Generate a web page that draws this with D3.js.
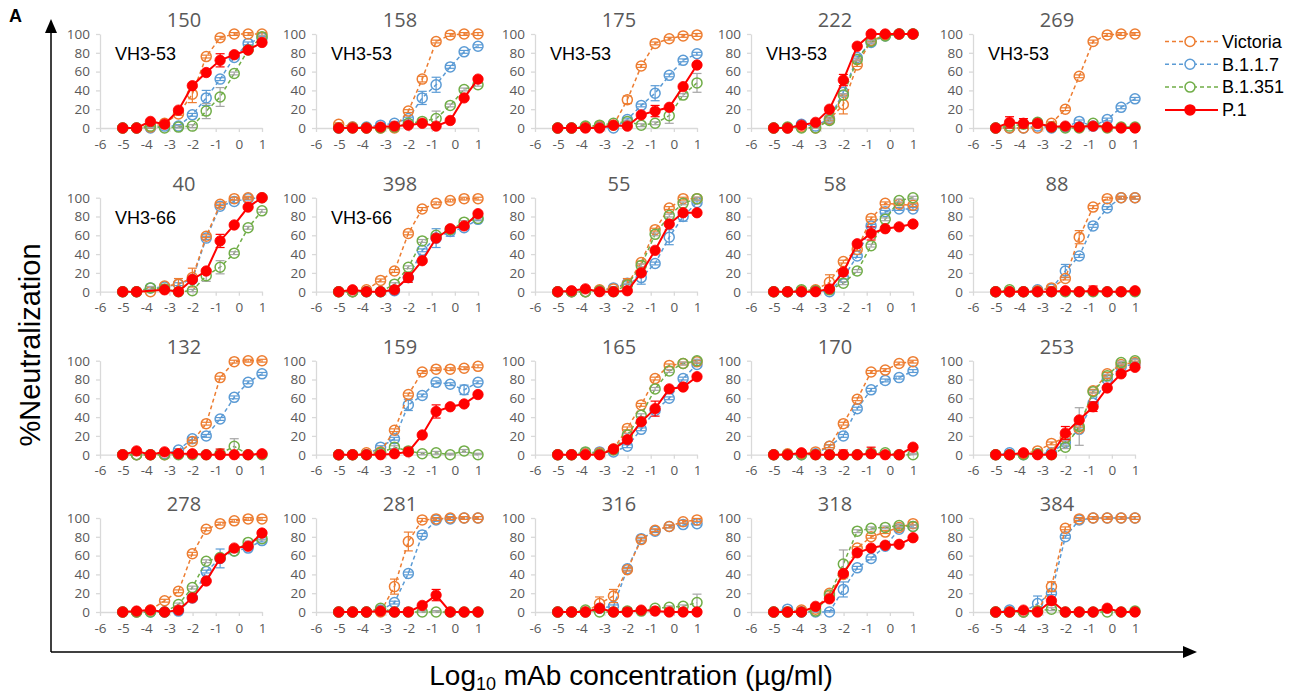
<!DOCTYPE html>
<html><head><meta charset="utf-8">
<script src="https://cdn.jsdelivr.net/npm/d3@7"></script>
<style>body{margin:0;background:#fff} svg{display:block}</style>
</head><body><svg id="c" width="1300" height="698"></svg>
<script>
// ---------- DATA ----------
const concentrations = [-5.02, -4.42, -3.82, -3.21, -2.61, -2.01, -1.41, -0.81, -0.20, 0.40, 1.00];
const xTicks = [-6, -5, -4, -3, -2, -1, 0, 1];
const yTicks = [0, 20, 40, 60, 80, 100];
const seriesNames = ["Victoria", "B.1.1.7", "B.1.351", "P.1"];
const panelIds = ["150","158","175","222","269","40","398","55","58","88","132","159","165","170","253","278","281","316","318","384"];
const geneLabels = {"150":"VH3-53","158":"VH3-53","175":"VH3-53","222":"VH3-53","269":"VH3-53","40":"VH3-66","398":"VH3-66"};

const victoria = [
  [0,0,1,5,15,36,76,96,100,100,100],
  [4,1,0,0,0,18,52,92,99,100,100],
  [0,0,1,2,3,30,66,90,95,98,99],
  [0,0,1,0,9,25,67,93,99,100,100],
  [0,0,0,0,5,20,55,92,99,100,100],
  [0,0,0,6,8,15,59,93,99,100,100],
  [0,0,2,12,22,62,88,94,97,99,99],
  [0,0,0,2,3,8,31,66,89,99,99],
  [0,0,1,2,10,32,45,78,94,93,92],
  [0,0,0,1,4,14,58,90,99,100,100],
  [0,0,0,0,1,14,33,82,99,100,100],
  [0,0,2,3,26,64,88,91,91,92,94],
  [0,0,1,2,6,28,53,81,95,97,99],
  [0,1,1,3,9,33,59,88,90,97,99],
  [0,0,1,4,12,18,28,68,86,96,98],
  [0,0,2,12,22,62,88,94,97,99,99],
  [0,0,0,0,27,75,98,99,100,100,100],
  [0,0,0,9,17,45,77,87,91,96,98],
  [0,0,2,3,20,40,68,80,85,90,94],
  [0,0,0,1,27,89,99,100,100,100,100]
];
const b117 = [
  [0,0,0,2,2,14,32,52,75,90,96],
  [0,1,1,3,5,10,32,46,65,81,87],
  [0,0,1,1,0,9,24,37,56,72,79],
  [0,0,4,2,10,38,75,91,98,100,100],
  [0,0,0,2,0,1,7,2,9,22,31],
  [0,0,4,5,8,13,57,91,96,99,100],
  [0,0,0,0,1,15,44,57,64,68,77],
  [0,0,0,1,4,9,15,30,58,80,95],
  [0,0,0,1,0,15,38,70,85,88,88],
  [0,0,0,2,3,22,38,70,89,100,100],
  [0,0,0,1,5,17,20,38,61,77,86],
  [0,0,0,8,17,53,63,77,75,69,77],
  [0,0,2,3,3,9,27,47,60,81,96],
  [0,0,0,1,9,20,49,69,79,82,89],
  [0,2,0,1,2,13,27,55,80,93,97],
  [0,0,0,0,1,15,43,57,65,68,76],
  [0,0,0,2,10,41,82,98,99,100,100],
  [0,0,0,4,6,46,78,86,91,93,94],
  [0,3,0,0,0,24,47,57,70,88,91],
  [0,2,0,9,20,80,98,100,100,100,100]
];
const b1351 = [
  [0,0,2,0,1,2,18,33,58,83,97],
  [0,0,0,0,1,5,7,10,24,41,46],
  [0,0,2,3,5,7,3,5,13,35,48],
  [0,1,0,0,8,35,73,92,98,100,100],
  [0,2,4,6,1,0,0,5,0,1,1],
  [0,0,4,3,0,1,17,26,41,68,86],
  [0,0,0,0,8,26,54,60,66,74,78],
  [0,0,0,1,0,7,28,61,81,94,99],
  [0,0,2,1,2,9,22,49,77,97,100],
  [0,2,0,0,0,0,0,0,0,0,0],
  [0,0,0,0,0,0,0,1,9,0,0],
  [0,0,0,2,8,4,1,2,0,4,0],
  [0,0,3,1,5,21,42,70,89,97,100],
  [0,0,0,0,0,0,0,2,2,0,0],
  [0,0,0,1,0,8,30,67,84,98,100],
  [0,0,0,0,8,26,54,58,65,74,78],
  [0,0,0,4,0,0,0,0,0,0,0],
  [0,0,2,0,0,1,1,4,5,6,10],
  [0,0,0,1,18,51,86,89,90,92,91],
  [0,0,0,1,3,0,0,0,0,0,1]
];
const p1 = [
  [0,0,7,4,19,45,59,72,78,83,91],
  [0,0,0,1,2,3,5,2,8,32,52],
  [0,0,0,0,3,2,14,18,22,44,67],
  [0,0,3,6,20,51,87,100,100,100,100],
  [0,6,5,5,1,2,1,2,1,0,0],
  [0,0,null,2,0,13,22,54,71,90,100],
  [0,2,0,0,2,15,33,57,67,70,83],
  [0,1,3,0,0,1,20,44,72,84,84],
  [0,0,0,0,3,21,51,62,67,69,72],
  [0,0,0,0,0,1,0,1,0,0,1],
  [0,4,0,3,1,1,0,0,0,0,1],
  [0,0,0,0,1,3,21,46,51,54,64],
  [0,0,0,0,6,16,35,49,70,72,83],
  [0,0,2,0,0,0,0,1,0,0,8],
  [0,0,2,0,0,23,37,51,71,86,93],
  [0,1,2,0,2,15,33,57,68,70,84],
  [0,0,0,1,0,0,7,18,0,0,0],
  [0,0,0,4,0,0,2,1,0,0,0],
  [0,0,0,6,14,41,63,68,71,72,79],
  [0,0,2,0,12,0,0,0,4,0,0]
];
// [panel, series index, point index, +/- error]
const errorBars = [
  ["150",0,5,9],["150",3,7,7],["150",1,6,8],["150",2,7,10],["150",2,6,8],
  ["158",1,7,8],["158",1,6,7],["158",2,7,8],["158",0,6,3],
  ["175",1,7,8],["175",3,7,6],["175",2,10,10],["175",2,8,8],["175",0,5,4],
  ["222",0,5,10],["222",3,5,6],
  ["269",3,1,6],["269",3,2,5],
  ["40",0,5,10],["40",0,4,6],["40",3,7,7],["40",2,7,7],["40",2,6,6],
  ["398",1,7,10],["398",3,5,5],["398",1,8,5],
  ["55",1,6,7],["55",1,8,8],["55",0,5,6],["55",1,9,5],
  ["58",0,4,8],["58",3,7,7],
  ["88",1,5,7],["88",0,6,7],["88",3,7,5],
  ["132",2,8,8],["132",3,7,6],
  ["159",3,7,7],["159",1,9,5],["159",1,5,6],["159",3,5,4],
  ["165",3,7,8],
  ["170",3,7,7],["170",3,5,5],
  ["253",2,6,20],["253",3,5,7],["253",3,7,5],
  ["278",1,7,10],
  ["281",0,5,10],["281",0,4,8],["281",3,7,6],["281",3,5,4],
  ["316",0,3,7],["316",0,4,7],["316",2,10,9],["316",3,5,4],
  ["318",2,5,15],["318",1,5,8],
  ["384",1,3,8],["384",0,4,5],["384",3,7,3]
];

// ---------- STYLE / LAYOUT ----------
const colors = ["#ED7D31", "#5B9BD5", "#70AD47", "#FF0000"];
const errColors = ["#ED7D31", "#5B9BD5", "#A5A5A5", "#FF0000"];
const drawOrder = [1, 0, 2, 3];
const colX = [100, 316, 535, 751, 973];
const rowTop = [34, 197.7, 360.7, 518];
const plotW = 162, plotH = 94;
const tickFont = "'Open Sans', 'Noto Sans', sans-serif";
const labelFont = "'Liberation Sans', Arial, sans-serif";
const allSeries = [victoria, b117, b1351, p1];

const svg = d3.select("#c");

panelIds.forEach((id, i) => {
  const col = i % 5, row = Math.floor(i / 5);
  const x = d3.scaleLinear().domain([-6, 1]).range([colX[col], colX[col] + plotW]);
  const y = d3.scaleLinear().domain([0, 100]).range([rowTop[row] + plotH, rowTop[row]]);
  const g = svg.append("g");

  const ya = g.append("g").attr("transform", `translate(${x(-6)},0)`)
    .call(d3.axisLeft(y).tickValues(yTicks).tickSize(4).tickSizeOuter(0).tickPadding(6));
  const xa = g.append("g").attr("transform", `translate(0,${y(0)})`)
    .call(d3.axisBottom(x).tickValues(xTicks).tickSize(4).tickSizeOuter(0).tickPadding(7).tickFormat(d => String(d)));
  [ya, xa].forEach(a => {
    a.select(".domain").attr("stroke", "#D9D9D9").attr("stroke-width", 1.3);
    a.selectAll(".tick line").attr("stroke", "#D9D9D9").attr("stroke-width", 1.3);
    a.selectAll(".tick text").attr("fill", "#595959").style("font-family", tickFont).style("font-size", "13.5px");
  });

  g.append("text").attr("x", (x(-6) + x(1)) / 2 + 3).attr("y", rowTop[row] - 7)
    .attr("text-anchor", "middle").attr("fill", "#595959")
    .style("font-family", tickFont).style("font-size", "20px").text(id);

  if (geneLabels[id]) {
    g.append("text").attr("x", x(-6) + 15).attr("y", rowTop[row] + 26)
      .attr("fill", "#000").style("font-family", labelFont).style("font-size", "18px").text(geneLabels[id]);
  }

  drawOrder.forEach(s => {
    const ser = allSeries[s];
    const vals = ser[i];
    const pts = concentrations.map((c, k) => ({c, v: vals[k], k})).filter(p => p.v !== null);
    const errs = {};
    errorBars.filter(e => e[0] === id && e[1] === s).forEach(e => errs[e[2]] = e[3]);
    const sg = g.append("g");
    sg.append("path").datum(pts)
      .attr("fill", "none").attr("stroke", colors[s])
      .attr("stroke-width", s === 3 ? 2 : 1.5)
      .attr("stroke-dasharray", s === 3 ? null : "4,3")
      .attr("d", d3.line().x(p => x(p.c)).y(p => y(p.v)));
    pts.forEach(p => {
      const e = errs[p.k] !== undefined ? errs[p.k] : 1.5;
      const top = y(Math.min(p.v + e, 105)), bot = y(Math.max(p.v - e, 0));
      const cx = x(p.c);
      sg.append("line").attr("x1", cx).attr("x2", cx).attr("y1", top).attr("y2", bot)
        .attr("stroke", errColors[s]).attr("stroke-width", 1.2);
      [top, bot].forEach(yy => sg.append("line").attr("x1", cx - 4.5).attr("x2", cx + 4.5)
        .attr("y1", yy).attr("y2", yy).attr("stroke", errColors[s]).attr("stroke-width", 1.2));
    });
    sg.selectAll("circle").data(pts).join("circle")
      .attr("cx", p => x(p.c)).attr("cy", p => y(p.v))
      .attr("r", s === 3 ? 5.2 : 5)
      .attr("fill", s === 3 ? colors[s] : "none")
      .attr("stroke", colors[s]).attr("stroke-width", s === 3 ? 0.8 : 1.5);
  });
});

// legend
seriesNames.forEach((name, s) => {
  const ly = 41.5 + s * 22.8;
  const lg = svg.append("g");
  lg.append("line").attr("x1", 1165).attr("x2", 1218).attr("y1", ly).attr("y2", ly)
    .attr("stroke", colors[s]).attr("stroke-width", s === 3 ? 2 : 1.5)
    .attr("stroke-dasharray", s === 3 ? null : "4,3");
  lg.append("circle").attr("cx", 1190).attr("cy", ly).attr("r", 5)
    .attr("fill", s === 3 ? colors[s] : "#fff").attr("stroke", colors[s]).attr("stroke-width", 1.5);
  lg.append("text").attr("x", 1222).attr("y", ly).attr("dy", "0.35em")
    .style("font-family", labelFont).style("font-size", "18px").attr("fill", "#000").text(name);
});

// big axes with arrows
svg.append("line").attr("x1", 51).attr("x2", 51).attr("y1", 30).attr("y2", 652).attr("stroke", "#000").attr("stroke-width", 1.5);
svg.append("line").attr("x1", 51).attr("x2", 1186).attr("y1", 652).attr("y2", 652).attr("stroke", "#000").attr("stroke-width", 1.5);
svg.append("path").attr("d", "M51,19 L45,33 L57,33 Z").attr("fill", "#000");
svg.append("path").attr("d", "M1197,652 L1183,646 L1183,658 Z").attr("fill", "#000");

svg.append("text").attr("x", 9).attr("y", 22).style("font-family", labelFont).style("font-weight", "bold")
  .style("font-size", "18px").attr("fill", "#000").text("A");

svg.append("text").attr("transform", "translate(40,345) rotate(-90)").attr("text-anchor", "middle")
  .style("font-family", labelFont).style("font-size", "29px").attr("fill", "#000").text("%Neutralization");

const xl = svg.append("text").attr("x", 631).attr("y", 685).attr("text-anchor", "middle")
  .style("font-family", labelFont).style("font-size", "28px").attr("fill", "#000");
xl.append("tspan").text("Log");
xl.append("tspan").attr("dy", 5).style("font-size", "18px").text("10");
xl.append("tspan").attr("dy", -5).text(" mAb concentration (\u00B5g/ml)");
</script></body></html>
